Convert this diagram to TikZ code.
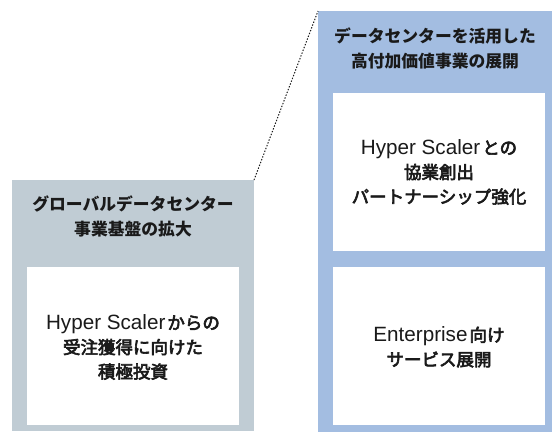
\documentclass[tikz,border=0pt]{standalone}
\usepackage{fontspec}
\setmainfont{Noto Sans CJK JP}
\newfontfamily\jpmed[FakeBold=3.5]{Noto Sans CJK JP}
\newfontfamily\lat[Scale=1.18]{Liberation Sans}
\newcommand{\latw}[1]{{\lat #1}\hspace{2pt}}
\definecolor{grayblue}{RGB}{192,204,212}
\definecolor{lightblue}{RGB}{163,189,225}
\definecolor{txt}{RGB}{26,26,26}
\begin{document}
\begin{tikzpicture}[x=1pt,y=-1pt,
  panel/.style={fill=#1,draw=none},
  card/.style={fill=white,draw=none},
  ttl/.style={align=center,font=\fontsize{16.8}{25}\selectfont\bfseries,text=txt,inner sep=0pt},
  body/.style={align=center,font=\fontsize{17.5}{24.5}\selectfont\jpmed,text=txt,inner sep=0pt}]
\useasboundingbox (0,0) rectangle (554,432);
% left panel
\path[panel=grayblue] (12,180) rectangle (254,431);
\path[card] (27,267) rectangle (239,425);
\node[ttl] (lt) at (133,216) {グローバルデータセンター\\事業基盤の拡大};
\node[body] (lb) at (133,347) {\latw{Hyper Scaler}からの\\受注獲得に向けた\\積極投資};
% right panel
\path[panel=lightblue] (318,11) rectangle (552,432);
\path[card] (333,93) rectangle (545,251);
\path[card] (333,267) rectangle (545,425);
\node[ttl] (rt) at (435,48) {データセンターを活用した\\高付加価値事業の展開};
\node[body] (rb1) at (439,172) {\latw{Hyper Scaler}との\\協業創出\\パートナーシップ強化};
\node[body] (rb2) at (439,347) {\latw{Enterprise}向け\\サービス展開};
% dotted connector
\coordinate (a) at (254,180);
\coordinate (b) at (318,11);
\draw[dash pattern=on 1.4pt off 1.6pt,line width=1pt,txt] (a) -- (b);
\end{tikzpicture}
\end{document}
